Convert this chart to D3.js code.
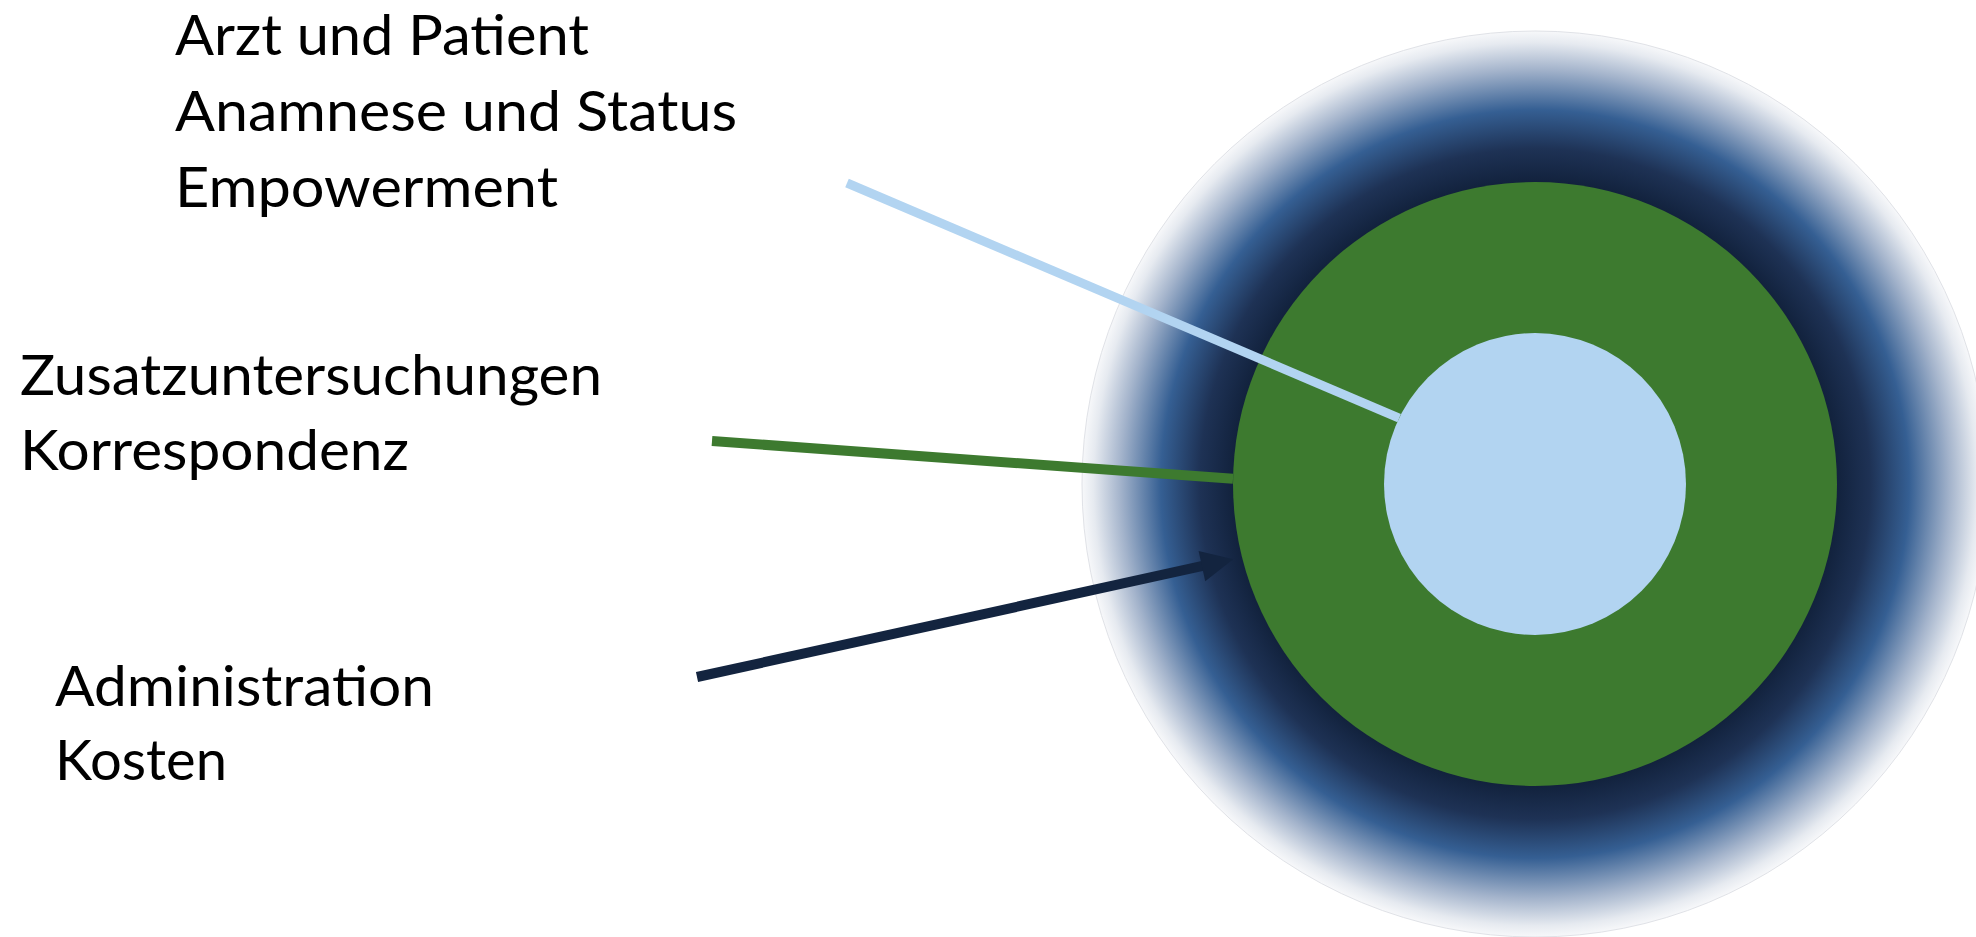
<!DOCTYPE html>
<html>
<head>
<meta charset="utf-8">
<script src="https://cdn.jsdelivr.net/npm/d3@7"></script>
<style>
  html, body { margin: 0; padding: 0; background: #ffffff; }
  svg { display: block; }
</style>
</head>
<body>
<svg id="chart" width="1976" height="937"></svg>
<script>
// ---------- data ----------
const ringLevels = [3, 2, 1];            // outer, middle, inner (relative radius)
const labelGroups = [
  ["Arzt und Patient", "Anamnese und Status", "Empowerment"],
  ["Zusatzuntersuchungen", "Korrespondenz"],
  ["Administration", "Kosten"]
];
const pointerTargets = [1, 2, 2.06];      // ring level each pointer reaches
const pointerAngles = [205.9, 181.0, 166.0]; // degrees, direction from centre

// ---------- layout ----------
const W = 1976, H = 937;
const cx = 1535, cy = 484;
const rScale = d3.scaleLinear().domain([0, 3]).range([0, 453]);

const svg = d3.select("#chart");
const defs = svg.append("defs");

const grad = defs.append("radialGradient")
  .attr("id", "outerGrad")
  .attr("gradientUnits", "userSpaceOnUse")
  .attr("cx", cx).attr("cy", cy).attr("r", rScale(3));
[
  [0.00, "#12223d"],
  [0.667, "#12223d"],
  [0.74, "#1e3255"],
  [0.826, "#355f93"],
  [0.915, "#a3b3cb"],
  [0.975, "#e6eaf0"],
  [1.00, "#f7f8fa"]
].forEach(([o, c]) => grad.append("stop").attr("offset", o).attr("stop-color", c));

const ringFill = { 3: "url(#outerGrad)", 2: "#3d7a2f", 1: "#b2d4f1" };

svg.selectAll("circle.ring")
  .data(ringLevels)
  .join("circle")
  .attr("class", "ring")
  .attr("cx", cx).attr("cy", cy)
  .attr("r", d => rScale(d))
  .attr("fill", d => ringFill[d])
  .attr("stroke", d => d === 3 ? "#e0e2e7" : "none")
  .attr("stroke-width", 1);

// ---------- pointers ----------
const pointerStarts = [[847, 183], [712, 441], [697, 677]];
const pointerColors = ["#b2d4f1", "#3d7a2f", "#13243f"];
const pointerWidths = [9, 10, 10];

const ends = pointerTargets.map((lv, i) => {
  const a = pointerAngles[i] * Math.PI / 180;
  return [cx + rScale(lv) * Math.cos(a), cy + rScale(lv) * Math.sin(a)];
});

pointerStarts.forEach((s, i) => {
  const e = ends[i];
  if (i === 2) {
    const dx = e[0] - s[0], dy = e[1] - s[1];
    const len = Math.hypot(dx, dy);
    const ux = dx / len, uy = dy / len;
    const headL = 32, headW = 31;
    const bx = e[0] - ux * headL, by = e[1] - uy * headL;
    svg.append("line")
      .attr("x1", s[0]).attr("y1", s[1])
      .attr("x2", bx + ux * 2).attr("y2", by + uy * 2)
      .attr("stroke", pointerColors[i]).attr("stroke-width", pointerWidths[i]);
    const px = -uy, py = ux;
    svg.append("path")
      .attr("d", d3.line()([
        [e[0], e[1]],
        [bx + px * headW / 2, by + py * headW / 2],
        [bx - px * headW / 2, by - py * headW / 2]
      ]) + "Z")
      .attr("fill", pointerColors[i]);
  } else {
    svg.append("line")
      .attr("x1", s[0]).attr("y1", s[1])
      .attr("x2", e[0]).attr("y2", e[1])
      .attr("stroke", pointerColors[i]).attr("stroke-width", pointerWidths[i]);
  }
});

// ---------- labels ----------
const groupPos = [
  { x: 175, y: 55, step: 76 },
  { x: 20, y: 395, step: 75 },
  { x: 55, y: 706, step: 74 }
];
const textWidths = [
  [414, 562, 383],
  [582, 389],
  [379, 172]
];

labelGroups.forEach((lines, gi) => {
  const g = svg.append("g");
  g.selectAll("text")
    .data(lines)
    .join("text")
    .attr("x", groupPos[gi].x)
    .attr("y", (d, i) => groupPos[gi].y + i * groupPos[gi].step)
    .attr("font-family", "Lato, 'Open Sans', sans-serif")
    .attr("font-size", 56)
    .attr("fill", "#000")
    .attr("textLength", (d, i) => textWidths[gi][i])
    .attr("lengthAdjust", "spacingAndGlyphs")
    .text(d => d);
});
</script>
</body>
</html>
